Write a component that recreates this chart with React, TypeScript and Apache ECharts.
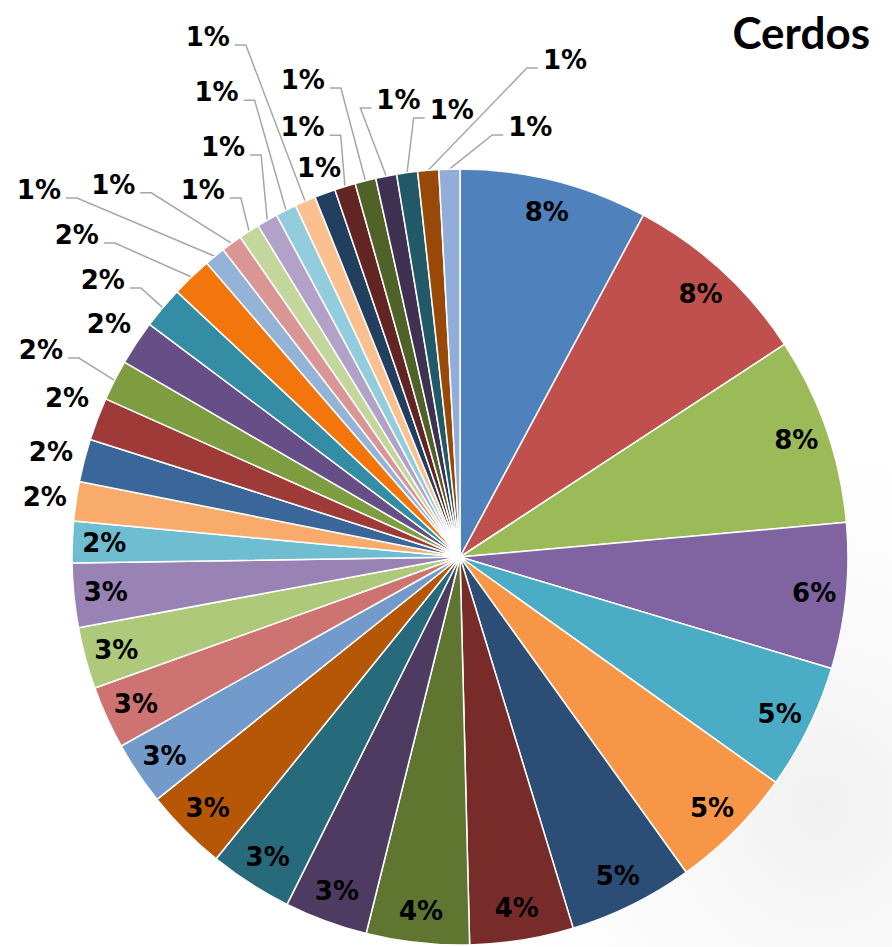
import React, { useEffect, useRef } from "react";
import * as echarts from "echarts";

const titleText = "Cerdos";

const categories = [
  "C01", "C02", "C03", "C04", "C05", "C06", "C07", "C08", "C09", "C10",
  "C11", "C12", "C13", "C14", "C15", "C16", "C17", "C18", "C19", "C20",
  "C21", "C22", "C23", "C24", "C25", "C26", "C27", "C28", "C29", "C30",
  "C31", "C32", "C33", "C34", "C35", "C36", "C37",
];

const values = [
  7.83, 7.92, 7.8, 6.06, 5.22, 5.22, 5.19, 4.31, 4.28, 3.46,
  3.46, 3.44, 2.64, 2.61, 2.56, 2.67, 1.72, 1.64, 1.78, 1.78,
  1.69, 1.86, 1.75, 1.69, 0.87, 0.87, 0.87, 0.87, 0.87, 0.87,
  0.87, 0.87, 0.87, 0.87, 0.87, 0.87, 0.87,
];

const sliceColors = [
  "#4F81BD", "#C0504D", "#9BBB59", "#8064A2", "#4BACC6", "#F79646",
  "#2C4D75", "#772C2A", "#5F7530", "#4D3B62", "#276A7C", "#B65708",
  "#729ACA", "#CD7371", "#AFC97A", "#9983B5", "#6FBDD1", "#F9AB6B",
  "#3A6699", "#9E3B38", "#7E9C40", "#664E87", "#358DA5", "#F2760C",
  "#95B3D7", "#D99694", "#C3D69B", "#B3A2C7", "#93CDDD", "#FAC090",
  "#233F60", "#632523", "#4F6228", "#3F3151", "#215968", "#984807",
  "#92AED8",
];

// number of leading slices whose label sits inside the slice
const insideLabelCount = 17;

// leader-line layout for the outside labels (slices 18..37)
const leaderRadial = [
  27.5, 34.2, 59.8, 66.4, 34.2, 42.9, 58.1, 85.6, 72.4, 49.1,
  84.5, 132, 179, 27, 62.1, 103.8, 77.6, 63.2, 110.7, 42.2,
];
const leaderHorizontal = [
  -23.1, -26.9, -52.6, -12.5, -28.1, 0, 47.3, 94.7, 48.7, -7.4,
  -24.8, -16.9, -1.1, -30.7, -3.1, 10.2, 0, 26.2, 118.8, 55,
];
const leaderVisible = [
  false, false, false, true, false, true, true, true, true, true,
  true, true, true, false, true, true, true, true, true, true,
];
const labelOnRight = [
  false, false, false, false, false, false, false, false, false, false,
  false, false, false, false, false, false, true, true, true, true,
];

const kneeLen = 11;
const lineDrop = 8;
const labelGap = 5;

const labelFont = {
  fontFamily: "DejaVu Sans",
  fontWeight: "bold" as const,
  fontSize: 26,
  color: "#000",
};

const fmt = (p: any) => Math.round(p.percent) + "%";

export default function App() {
  const ref = useRef<HTMLDivElement>(null);

  useEffect(() => {
    if (!ref.current) return;
    const chart = echarts.init(ref.current, undefined, { renderer: "svg" });

    const mainData = values.map((v, i) => {
      const k = i - insideLabelCount;
      const outside = k >= 0;
      return {
        name: categories[i],
        value: v,
        itemStyle: { color: sliceColors[i] },
        label: { show: outside },
        labelLine: outside
          ? {
              show: leaderVisible[k],
              length: leaderRadial[k],
              length2: leaderHorizontal[k],
            }
          : { show: false },
      };
    });

    const overlayData = values.map((v, i) => ({
      name: categories[i],
      value: v,
      label: { show: i < insideLabelCount },
    }));

    chart.setOption({
      animation: false,
      backgroundColor: "#ffffff",
      title: {
        text: titleText,
        right: 17,
        top: 5,
        textStyle: {
          fontFamily: "Lato",
          fontWeight: "bold",
          fontSize: 44,
          color: "#000",
        },
      },
      graphic: [
        {
          type: "rect",
          z: 0,
          silent: true,
          shape: { x: 0, y: 0, width: 892, height: 947 },
          style: {
            fill: new echarts.graphic.RadialGradient(0.92, 0.85, 0.45, [
              { offset: 0, color: "rgba(225,225,225,0.5)" },
              { offset: 1, color: "rgba(255,255,255,0)" },
            ]),
          },
        },
      ],
      series: [
        {
          type: "pie",
          center: [460, 557],
          radius: [0, 388],
          startAngle: 90,
          clockwise: true,
          avoidLabelOverlap: false,
          itemStyle: { borderColor: "#ffffff", borderWidth: 1.5 },
          label: {
            position: "outside",
            formatter: fmt,
            ...labelFont,
            distanceToLabelLine: labelGap,
          },
          labelLine: {
            minTurnAngle: 0,
            lineStyle: { color: "#A6A6A6", width: 1.5 },
          },
          labelLayout: (params: any) => {
            if (params.seriesIndex !== 0) return {};
            const k = params.dataIndex - insideLabelCount;
            if (k < 0) return {};
            const pts = params.labelLinePoints;
            if (!pts || pts.length < 3) return {};
            const flip = labelOnRight[k];
            const p1 = pts[0];
            const p3 = pts[2];
            const endX = flip ? p3[0] + 2 * leaderHorizontal[k] : p3[0];
            const y = p3[1];
            const ly = y + lineDrop;
            const dir = flip ? -1 : 1;
            return {
              x: flip ? endX + labelGap : endX - labelGap,
              y,
              align: flip ? "left" : "right",
              verticalAlign: "middle",
              labelLinePoints: [
                [p1[0], p1[1]],
                [endX + dir * kneeLen, ly],
                [endX, ly],
              ],
            };
          },
          emphasis: { disabled: true },
          data: mainData,
        },
        {
          type: "pie",
          center: [460, 557],
          radius: [318, 388],
          startAngle: 90,
          clockwise: true,
          silent: true,
          avoidLabelOverlap: false,
          itemStyle: { color: "rgba(0,0,0,0)", borderWidth: 0 },
          label: {
            position: "inside",
            formatter: fmt,
            ...labelFont,
          },
          labelLine: { show: false },
          emphasis: { disabled: true },
          data: overlayData,
        },
      ],
    });

    return () => chart.dispose();
  }, []);

  return (
    <div
      ref={ref}
      style={{ position: "absolute", left: 0, top: 0, width: 892, height: 947 }}
    />
  );
}
